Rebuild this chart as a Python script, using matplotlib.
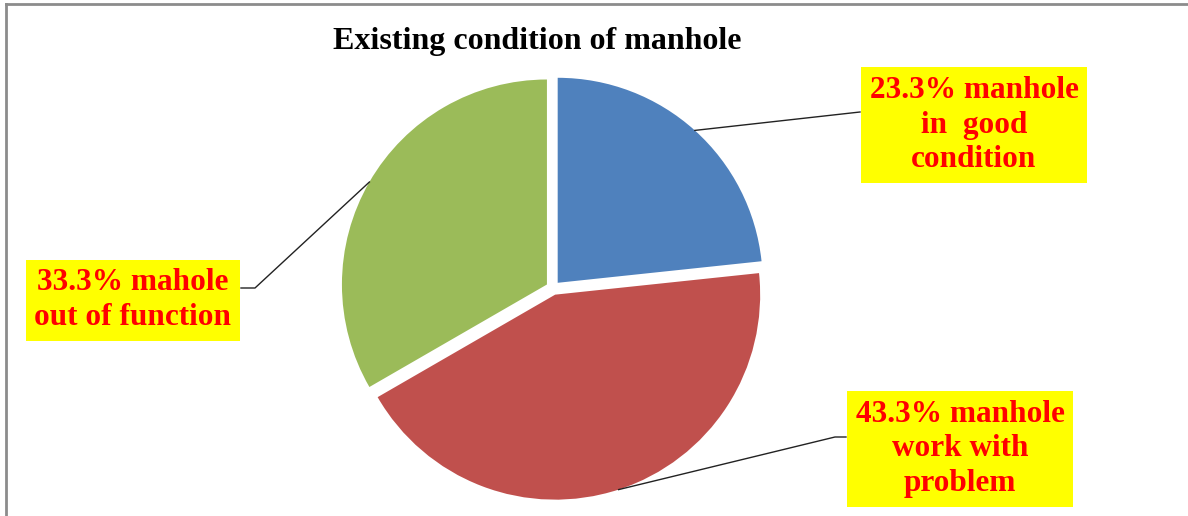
"""Pie chart: existing condition of manhole."""
import numpy as np
import matplotlib
matplotlib.use("Agg")
import matplotlib.pyplot as plt
from matplotlib.lines import Line2D

# data
shares = [23.3, 43.3, 33.3]
labels = ["23.3% manhole\nin  good\ncondition",
          "43.3% manhole\nwork with\nproblem",
          "33.3% mahole\nout of function"]
colors = ["#4F81BD", "#C0504D", "#9BBB59"]
title = "Existing condition of manhole"

# layout (pixel units, y up)
W, H = 1188, 516
CENTER, RADIUS, EXPL = (553, 228), 205, 7
box_xy = [(974, 391), (960, 67), (133, 216)]
# leader line: point at box side, optional elbow
leader_end = [[(860, 404)], [(835, 79), (846, 79)], [(255, 228), (241, 228)]]

plt.rcParams["font.family"] = ["Liberation Serif", "DejaVu Serif"]

fig = plt.figure(figsize=(W / 100, H / 100), dpi=100)
ax = fig.add_axes([0, 0, 1, 1])

wedges, _ = ax.pie(shares, colors=colors, startangle=90, counterclock=False,
                   center=CENTER, radius=RADIUS, explode=[EXPL] * 3,
                   wedgeprops=dict(linewidth=0), frame=True)
ax.set_xlim(0, W); ax.set_ylim(0, H)
ax.set_aspect("auto")
ax.axis("off")

ax.text(537, 475, title, ha="center", va="center", fontsize=23,
        fontweight="bold", color="black")

for w, lab, (bx, by), pts in zip(wedges, labels, box_xy, leader_end):
    mid = np.deg2rad(0.5 * (w.theta1 + w.theta2))
    cx, cy = w.center
    x0 = cx + w.r * np.cos(mid)
    y0 = cy + w.r * np.sin(mid)
    xs = [x0] + [p[0] for p in pts]
    ys = [y0] + [p[1] for p in pts]
    ax.add_line(Line2D(xs, ys, color="#222222", lw=1.0, zorder=3))
    ax.text(bx, by, lab, ha="center", va="center", fontsize=22.5,
            fontweight="bold", color="#FF0000", linespacing=1.25, zorder=4,
            bbox=dict(boxstyle="square,pad=0.28", fc="#FFFF00", ec="none"))

# chart frame (left and top edges visible)
fig.add_artist(Line2D([6 / W, 6 / W], [0, 1 - 4 / H], transform=fig.transFigure,
                      color="#8c8c8c", lw=2))
fig.add_artist(Line2D([6 / W, 1], [1 - 4 / H, 1 - 4 / H], transform=fig.transFigure,
                      color="#8c8c8c", lw=2))

fig.savefig("out.png", dpi=100)
